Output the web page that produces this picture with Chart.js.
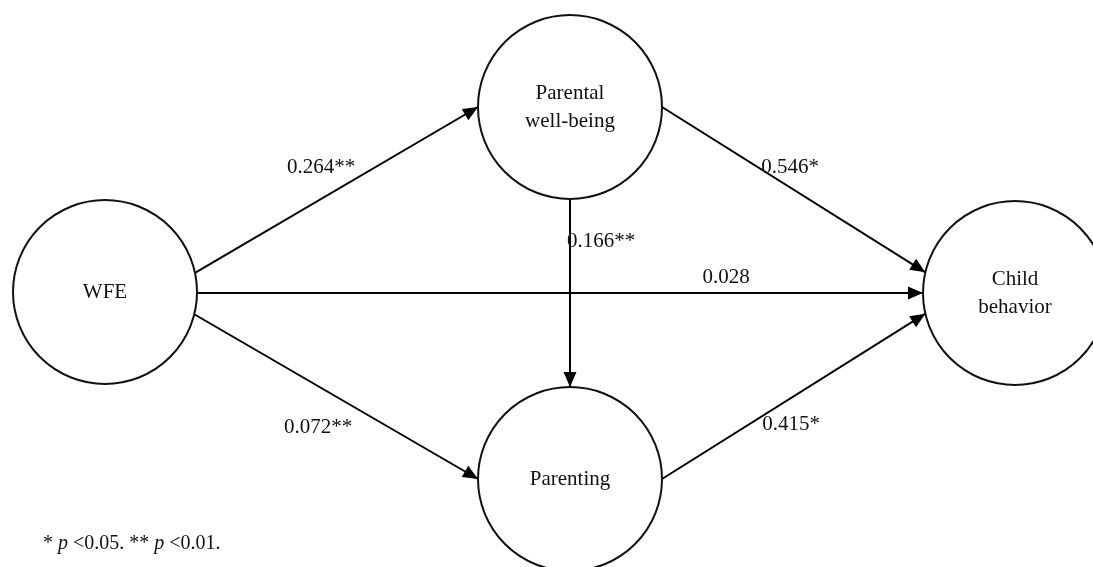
<!DOCTYPE html>
<html>
<head>
<meta charset="utf-8">
<script src="https://cdn.jsdelivr.net/npm/chart.js@4.4.1/dist/chart.umd.min.js"></script>
<style>
  html, body { margin: 0; padding: 0; background: #fff; }
  #wrap { width: 1093px; height: 567px; position: relative; }
</style>
</head>
<body>
<div id="wrap"><canvas id="c"></canvas></div>
<script>
// ---- data ----
const nodeNames = [['WFE'], ['Parental', 'well-being'], ['Parenting'], ['Child', 'behavior']];
const nodeX = [105, 570, 570, 1015];
const nodeY = [292, 107, 479, 293];
const nodeR = 92;
const edgeFrom = [0, 0, 0, 1, 1, 2];
const edgeTo = [1, 3, 2, 3, 2, 3];
const edgeFromAngle = [-12, 0.6, 14, 0, 90, 0];
const edgeToAngle = [180, 180, 180, 193, -90, 167];
const coefficients = ['0.264**', '0.028', '0.072**', '0.546*', '0.166**', '0.415*'];
const labelX = [321, 726, 318, 790, 601, 791];
const labelY = [167, 277, 427, 167, 241, 424];

function port(i, deg) {
  const a = deg * Math.PI / 180;
  return { x: nodeX[i] + nodeR * Math.cos(a), y: nodeY[i] + nodeR * Math.sin(a) };
}

const edgeDatasets = edgeFrom.map((f, k) => ({
  type: 'line',
  data: [port(f, edgeFromAngle[k]), port(edgeTo[k], edgeToAngle[k])],
  borderColor: '#000',
  borderWidth: 2,
  pointRadius: 0,
  fill: false,
  tension: 0,
  isEdge: true
}));

const nodeDataset = {
  type: 'scatter',
  data: nodeX.map((x, i) => ({ x: x, y: nodeY[i] })),
  pointRadius: nodeR,
  pointStyle: 'circle',
  borderColor: '#111',
  borderWidth: 2,
  backgroundColor: 'rgba(255,255,255,0)',
  clip: false
};

const SERIF = '"Liberation Serif", "DejaVu Serif", serif';

const textPlugin = {
  id: 'diagramText',
  afterDatasetsDraw(chart) {
    const ctx = chart.ctx;
    const xs = chart.scales.x, ys = chart.scales.y;
    ctx.save();
    // arrowheads
    chart.data.datasets.forEach((ds) => {
      if (!ds.isEdge) return;
      const p0 = ds.data[0], p1 = ds.data[1];
      const x0 = xs.getPixelForValue(p0.x), y0 = ys.getPixelForValue(p0.y);
      const x1 = xs.getPixelForValue(p1.x), y1 = ys.getPixelForValue(p1.y);
      const a = Math.atan2(y1 - y0, x1 - x0);
      const L = 15, W = 6.5;
      ctx.beginPath();
      ctx.moveTo(x1, y1);
      ctx.lineTo(x1 - L * Math.cos(a) + W * Math.sin(a), y1 - L * Math.sin(a) - W * Math.cos(a));
      ctx.lineTo(x1 - L * Math.cos(a) - W * Math.sin(a), y1 - L * Math.sin(a) + W * Math.cos(a));
      ctx.closePath();
      ctx.fillStyle = '#000';
      ctx.fill();
    });
    // node names
    ctx.fillStyle = '#111';
    ctx.textAlign = 'center';
    ctx.textBaseline = 'middle';
    ctx.font = '21px ' + SERIF;
    nodeNames.forEach((lines, i) => {
      const cx = xs.getPixelForValue(nodeX[i]);
      const cy = ys.getPixelForValue(nodeY[i]);
      const lh = 28;
      lines.forEach((t, j) => {
        ctx.fillText(t, cx, cy + (j - (lines.length - 1) / 2) * lh);
      });
    });
    // coefficients
    ctx.font = '21px ' + SERIF;
    coefficients.forEach((t, k) => {
      ctx.fillText(t, labelX[k], labelY[k]);
    });
    // footnote
    ctx.textAlign = 'left';
    const parts = [['* ', false], ['p', true], [' <0.05. ** ', false], ['p', true], [' <0.01.', false]];
    let x = 43;
    parts.forEach(([t, it]) => {
      ctx.font = (it ? 'italic ' : '') + '20px ' + SERIF;
      ctx.fillText(t, x, 544);
      x += ctx.measureText(t).width;
    });
    ctx.restore();
  }
};

new Chart(document.getElementById('c'), {
  data: { datasets: [nodeDataset].concat(edgeDatasets) },
  options: {
    responsive: true,
    maintainAspectRatio: false,
    animation: false,
    devicePixelRatio: 1,
    events: [],
    layout: { padding: 0, autoPadding: false },
    plugins: { legend: { display: false }, tooltip: { enabled: false }, title: { display: false } },
    scales: {
      x: { type: 'linear', min: 0, max: 1093, display: false },
      y: { type: 'linear', min: 0, max: 567, reverse: true, display: false }
    }
  },
  plugins: [textPlugin]
});
</script>
</body>
</html>
